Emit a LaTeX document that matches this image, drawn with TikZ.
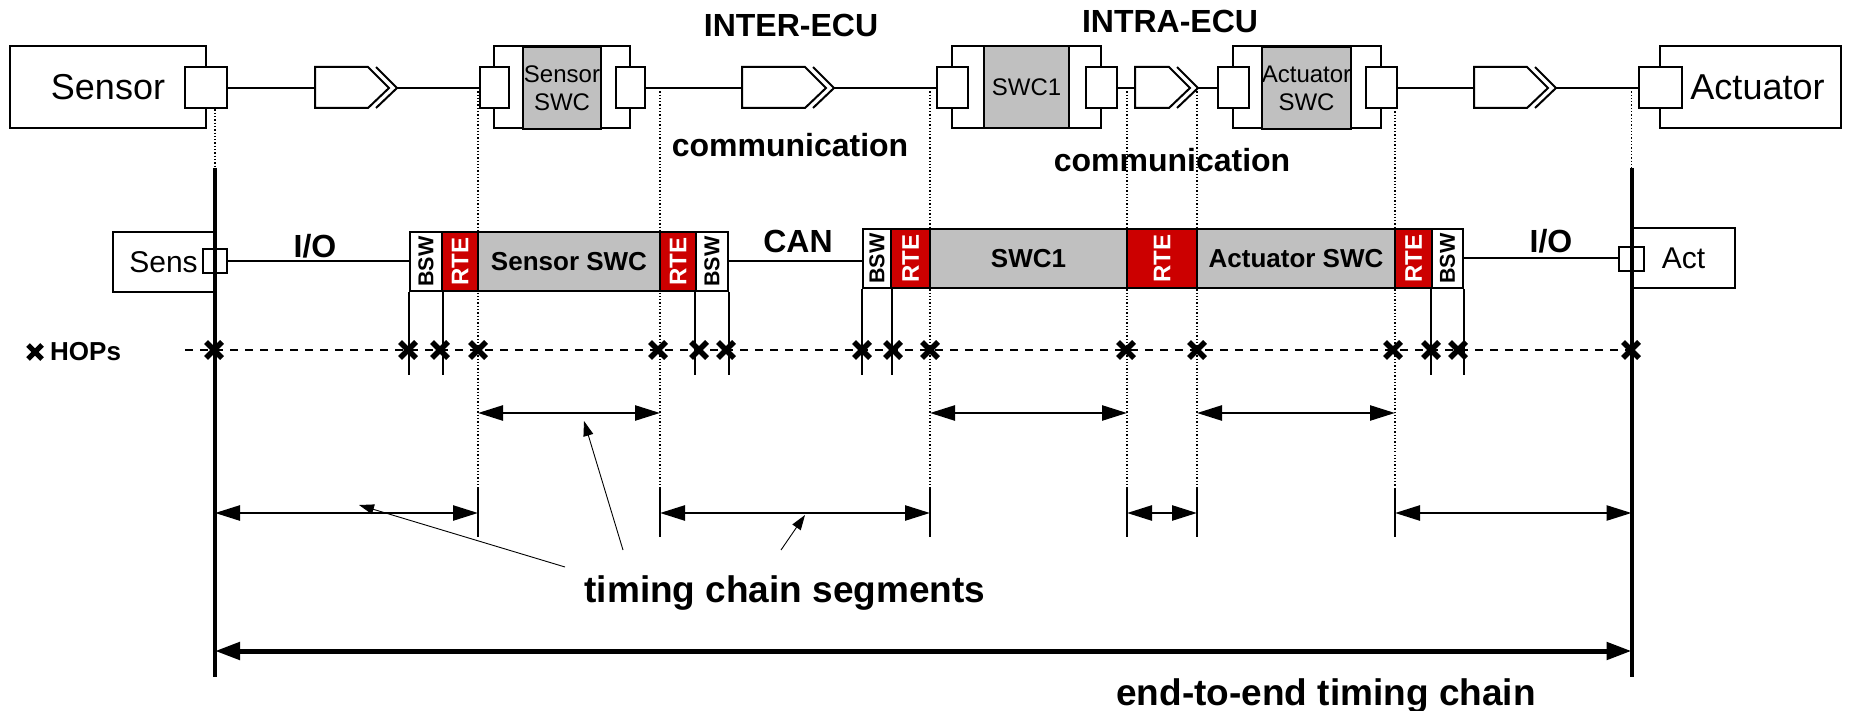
\documentclass[tikz,border=0pt]{standalone}
\usepackage{fontspec}
\setmainfont{Liberation Sans}
\usetikzlibrary{arrows.meta}
\definecolor{rtered}{RGB}{204,0,0}
\definecolor{swcgray}{RGB}{192,192,192}
\newcommand\myfs[2]{\fontsize{#1}{#2}\selectfont}
\newcommand\mychev[3]{%
  \draw[wire, fill=white] (#2,67) -- (#3-21,67) -- (#3,88) -- (#3-21,108) -- (#2,108) -- cycle;
  \draw[wire] (#3-13,67) -- (#3+8,88) -- (#3-13,108);
  \coordinate (#1w) at (#2,88);
  \coordinate (#1e) at (#3+8,88);
}
\begin{document}
\begin{tikzpicture}[x=1pt,y=-1pt,
  box/.style={draw, line width=2pt, fill=white, inner sep=0pt},
  port/.style={box, minimum width=31pt, minimum height=41pt},
  graybox/.style={draw, line width=2pt, fill=swcgray, inner sep=0pt, minimum height=82pt},
  frame/.style={box, minimum height=82pt},
  blk/.style={draw, line width=1.8pt, inner sep=0pt, minimum height=59pt},
  rte/.style={blk, fill=rtered, text=white, font=\myfs{24}{28}\bfseries},
  bsw/.style={blk, fill=white, font=\myfs{21.5}{26}\bfseries},
  swcb/.style={blk, fill=swcgray, font=\myfs{26}{30}\bfseries},
  wire/.style={line width=2pt},
  guide/.style={line width=1.3pt, dash pattern=on 1.3pt off 2pt},
  tick/.style={line width=1.6pt},
  seg/.style={line width=2.5pt, {Triangle[length=25pt,width=15pt]}-{Triangle[length=25pt,width=15pt]}},
  etoe/.style={line width=5pt, {Triangle[length=25pt,width=17pt]}-{Triangle[length=25pt,width=17pt]}},
  callout/.style={line width=0.9pt, -{Triangle[length=15pt,width=10pt]}},
  hop/.style={line width=5.5pt},
  chain/.style={line width=4pt},
  lbl/.style={font=\myfs{32}{36}\bfseries, anchor=base, inner sep=0pt},
  big/.style={font=\myfs{37}{42}\bfseries, anchor=base, inner sep=0pt}
]
\useasboundingbox (0,0) rectangle (1850,711);

% helper coordinates (levels)
\coordinate (chtop) at (0,168);
\coordinate (chbot) at (0,677);
\coordinate (gb) at (0,488);
\coordinate (gt) at (0,537);
\coordinate (tk) at (0,375);
\coordinate (up) at (0,413);
\coordinate (lo) at (0,513);
\coordinate (ee) at (0,651);

% ---------- top row ----------
\node[frame, minimum width=196pt, font=\myfs{36}{40}] (sensor) at (108,87) {Sensor};
\node[port, minimum width=42pt] (sP) at (206,88) {};

\node[frame, minimum width=136pt] (sswcF) at (562,87) {};
\node[graybox, minimum width=78pt, font=\myfs{24}{28}, align=center] (sswc) at (562,88) {Sensor\\SWC};
\node[port, minimum width=29pt] (sswcL) at (494.5,88) {};
\node[port, minimum width=29pt] (sswcR) at (630.5,88) {};

\node[frame, minimum width=149pt] (swc1F) at (1026.5,87) {};
\node[graybox, minimum width=85pt, font=\myfs{24}{28}] (swc1) at (1026.5,87) {SWC1};
\node[port] (swc1L) at (952.5,88) {};
\node[port] (swc1R) at (1101,88) {};

\node[frame, minimum width=148pt] (aswcF) at (1307,87) {};
\node[graybox, minimum width=85pt, font=\myfs{24}{28}, align=center] (aswc) at (1306.5,88) {Actuator\\SWC};
\node[port] (aswcL) at (1233,88) {};
\node[port] (aswcR) at (1381,88) {};

\node[frame, minimum width=181pt, font=\myfs{36}{40}] (actuator) at (1750.5,87) {\hspace*{14pt}Actuator};
\node[port, minimum width=43pt] (aP) at (1660.5,88) {};

\mychev{c1}{315}{389}
\mychev{c2}{742}{826}
\mychev{c3}{1135}{1190}
\mychev{c4}{1474}{1548}

\draw[wire] (sP.east) -- (c1w);
\draw[wire] (c1e) -- (sswcL.west);
\draw[wire] (sswcR.east) -- (c2w);
\draw[wire] (c2e) -- (swc1L.west);
\draw[wire] (swc1R.east) -- (c3w);
\draw[wire] (c3e) -- (aswcL.west);
\draw[wire] (aswcR.east) -- (c4w);
\draw[wire] (c4e) -- (aP.west);

\node[lbl] (inter) at (791,37) {INTER-ECU};
\node[lbl] (intra) at (1170,33) {INTRA-ECU};
\node[lbl] (comm1) at (790,157) {communication};
\node[lbl] (comm2) at (1172,172) {communication};

% ---------- bottom row ----------
\node[box, minimum width=101pt, minimum height=60pt, font=\myfs{30}{34}] (sens) at (163.5,262) {Sens};
\node[box, minimum width=24pt, minimum height=24pt] (sensP) at (215,261) {};
\node[box, minimum width=103pt, minimum height=60pt, font=\myfs{30}{34}] (act) at (1683.5,258) {Act};
\node[box, minimum width=25pt, minimum height=24pt] (actP) at (1631.5,259) {};

% guide lines (dotted)
\draw[guide] (sensP.center |- sP.south) -- (sensP.center |- chtop);
\draw[guide] (actP.center |- aP.west) -- (actP.center |- chtop);
\coordinate (x1) at (478,88);
\coordinate (x2) at (660,88);
\coordinate (x3) at (930,88);
\coordinate (x4) at (1127,88);
\coordinate (x5) at (1197,88);
\coordinate (x6) at (1395,108);
\foreach \g in {x1,x2,x3,x4,x5,x6}{
  \draw[guide] (\g) -- (\g |- gb);
  \draw[tick] (\g |- gb) -- (\g |- gt);
}

% ECU blocks
\node[bsw, minimum width=32pt] (bsw1) at (426,261.5) {\rotatebox{90}{BSW}};
\node[rte, minimum width=36pt] (rte1) at (460,261.5) {\rotatebox{90}{RTE}};
\node[swcb, minimum width=182pt] (sswcB) at (569,261.5) {Sensor SWC};
\node[rte, minimum width=36pt] (rte2) at (678,261.5) {\rotatebox{90}{RTE}};
\node[bsw, minimum width=32pt] (bsw2) at (712,261.5) {\rotatebox{90}{BSW}};

\node[bsw, minimum width=28pt] (bsw3) at (877,258.5) {\rotatebox{90}{BSW}};
\node[rte, minimum width=39pt] (rte3) at (910.5,258.5) {\rotatebox{90}{RTE}};
\node[swcb, minimum width=197pt] (swc1B) at (1028.5,258.5) {SWC1};
\node[rte, minimum width=70pt] (rte4) at (1162,258.5) {\rotatebox{90}{RTE}};
\node[swcb, minimum width=198pt] (aswcB) at (1296,258.5) {Actuator SWC};
\node[rte, minimum width=37pt] (rte5) at (1413.5,258.5) {\rotatebox{90}{RTE}};
\node[bsw, minimum width=31pt] (bsw4) at (1447.5,258.5) {\rotatebox{90}{BSW}};

\draw[wire] (sensP.east) -- (sensP.east -| bsw1.west);
\draw[wire] (bsw2.east) -- (bsw2.east -| bsw3.west);
\draw[wire] (bsw4.east) -- (bsw4.east -| actP.west);

\node[lbl] (io1) at (315,258) {I/O};
\node[lbl] (can) at (798,253) {CAN};
\node[lbl] (io2) at (1551,253) {I/O};

% ticks below BSW blocks
\foreach \b in {bsw1,bsw2,bsw3,bsw4}{
  \draw[tick] (\b.south west) -- (\b.south west |- tk);
  \draw[tick] (\b.south east) -- (\b.south east |- tk);
}

% timing chain boundaries (thick)
\draw[chain] (sensP.center |- chtop) -- (sensP.center |- chbot);
\draw[chain] (actP.center |- chtop) -- (actP.center |- chbot);

% HOPs
\coordinate (hopL) at (185,350);
\coordinate (hopR) at (1631,350);
\draw[line width=2pt, dash pattern=on 8pt off 7pt] (hopL) -- (hopR);
\foreach \x in {214,408,440,478,658,699,726,862,893,930,1126,1197,1393,1431,1458,1631}{
  \draw[hop] (\x-8,342) -- (\x+8,358) (\x-8,358) -- (\x+8,342);
}
\draw[line width=5pt] (28,345) -- (42,359) (28,359) -- (42,345);
\node[anchor=base west, inner sep=0pt, font=\myfs{26}{30}\bfseries] (hops) at (50,360) {HOPs};

% segment arrows
\draw[seg] (x1 |- up) -- (x2 |- up);
\draw[seg] (x3 |- up) -- (x4 |- up);
\draw[seg] (x5 |- up) -- (x6 |- up);
\draw[seg] (sensP.center |- lo) -- (x1 |- lo);
\draw[seg] (x2 |- lo) -- (x3 |- lo);
\draw[seg] (x4 |- lo) -- (x5 |- lo);
\draw[seg] (x6 |- lo) -- (actP.center |- lo);
\draw[etoe] (sensP.center |- ee) -- (actP.center |- ee);

% labels and callouts
\node[big] (tcs) at (785,602) {timing chain segments};
\node[big] (e2e) at (1326,705) {end-to-end timing chain};
\coordinate (co1s) at (565,567);
\coordinate (co2s) at (623,550);
\coordinate (co3s) at (781,550);
\coordinate (co1e) at (359,505);
\coordinate (co2e) at (584,421);
\coordinate (co3e) at (805,515);
\draw[callout] (co1s) -- (co1e);
\draw[callout] (co2s) -- (co2e);
\draw[callout] (co3s) -- (co3e);
\end{tikzpicture}
\end{document}
